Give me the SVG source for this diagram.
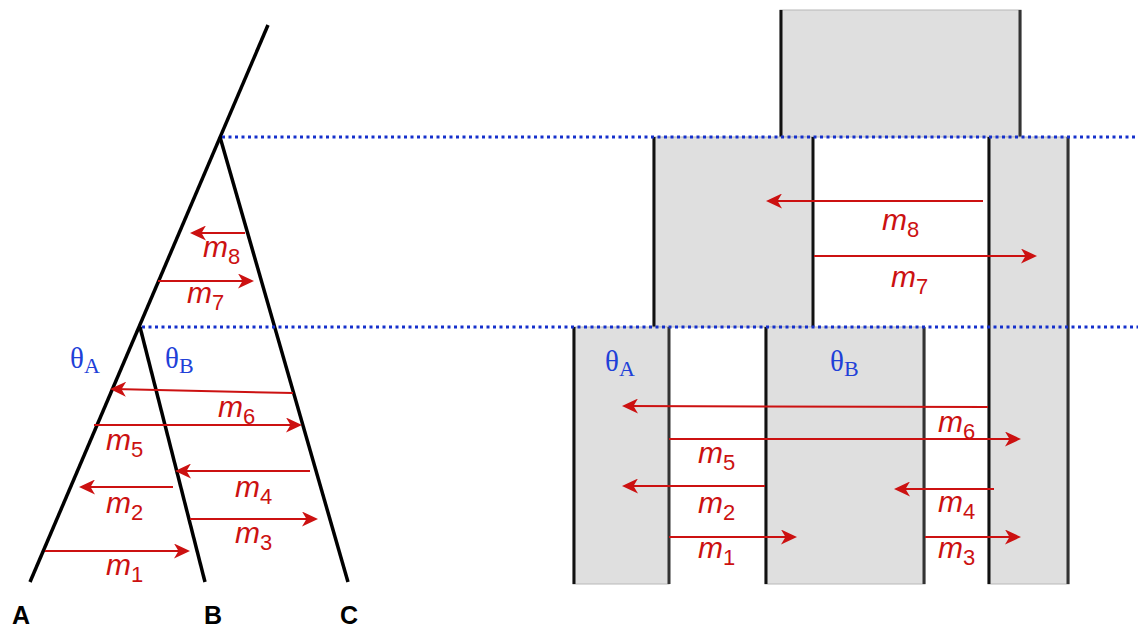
<svg xmlns="http://www.w3.org/2000/svg" width="1138" height="628" viewBox="0 0 1138 628">
<style>
.tree{stroke:#000;stroke-width:3.5;fill:none;stroke-linecap:butt}
.dot{stroke:#1530cc;stroke-width:3;stroke-dasharray:3 3.5;fill:none}
.arr{stroke:#cc1111;stroke-width:2;fill:none;marker-end:url(#ah)}
.box{fill:#dfdfdf;stroke:#b8b8b8;stroke-width:1}
.le{stroke:#111;stroke-width:3}
.re{stroke:#333;stroke-width:3}
.m{font-family:"Liberation Sans",Arial,sans-serif;font-style:italic;font-size:30px;fill:#cc1111}
.sub{font-size:22px;font-style:normal}
.th{font-family:"Liberation Serif","Times New Roman",serif;font-size:29px;fill:#2040d8}
.ths{font-size:22px}
.lbl{font-family:"Liberation Sans",Arial,sans-serif;font-weight:bold;font-size:25px;fill:#000;text-anchor:middle}
</style>
<defs>
<marker id="ah" markerUnits="userSpaceOnUse" markerWidth="17" markerHeight="15" viewBox="0 0 17 15" refX="12" refY="7.5" orient="auto">
<path d="M0,0 L16,7.5 L0,15 L4.5,7.5 Z" fill="#cc1111"/>
</marker>
</defs>

<g id="tree">
<line class="tree" x1="268" y1="25" x2="30" y2="582"/>
<line class="tree" x1="220" y1="137" x2="348" y2="582"/>
<line class="tree" x1="140" y1="327" x2="205" y2="582"/>
</g>

<g id="leaf-A"><text class="lbl" x="21" y="624">A</text></g>
<g id="leaf-B"><text class="lbl" x="213" y="624">B</text></g>
<g id="leaf-C"><text class="lbl" x="349" y="624">C</text></g>

<g id="tree-theta">
<text class="th" x="70" y="368">θ<tspan class="ths" dy="5">A</tspan></text>
<text class="th" x="165" y="368">θ<tspan class="ths" dy="5">B</tspan></text>
</g>

<g id="box-root">
<rect class="box" x="780" y="10" width="241" height="127"/>
<line class="le" x1="781" y1="10" x2="781" y2="137"/>
<line class="re" x1="1020" y1="10" x2="1020" y2="137"/>
</g>
<g id="box-AB">
<rect class="box" x="653" y="137" width="160" height="190"/>
<line class="le" x1="654" y1="137" x2="654" y2="327"/>
<line class="le" x1="813" y1="137" x2="813" y2="327"/>
</g>
<g id="box-C">
<rect class="box" x="988" y="137" width="81" height="447"/>
<line class="le" x1="989" y1="137" x2="989" y2="584"/>
<line class="re" x1="1068" y1="137" x2="1068" y2="584"/>
</g>
<g id="box-A">
<rect class="box" x="573" y="327" width="96" height="257"/>
<line class="le" x1="574" y1="327" x2="574" y2="584"/>
<line class="re" x1="669" y1="327" x2="669" y2="584"/>
<text class="th" x="605" y="371">θ<tspan class="ths" dy="5">A</tspan></text>
</g>
<g id="box-B">
<rect class="box" x="765" y="327" width="160" height="257"/>
<line class="le" x1="766" y1="327" x2="766" y2="584"/>
<line class="re" x1="924" y1="327" x2="924" y2="584"/>
<text class="th" x="830" y="371">θ<tspan class="ths" dy="5">B</tspan></text>
</g>

<g id="time-lines">
<line class="dot" x1="222" y1="137" x2="1138" y2="137"/>
<line class="dot" x1="142" y1="327" x2="1138" y2="327"/>
</g>

<g id="connectors">
<line class="arr" x1="245" y1="233" x2="194" y2="233"/>
<line class="arr" x1="158" y1="281" x2="250" y2="281"/>
<line class="arr" x1="293" y1="393" x2="114" y2="389"/>
<line class="arr" x1="94" y1="425" x2="298" y2="425"/>
<line class="arr" x1="310" y1="471" x2="179" y2="471"/>
<line class="arr" x1="173" y1="487" x2="83" y2="487"/>
<line class="arr" x1="190" y1="519" x2="314" y2="519"/>
<line class="arr" x1="45" y1="551" x2="186" y2="551"/>

<line class="arr" x1="983" y1="201" x2="770" y2="201"/>
<line class="arr" x1="814" y1="256" x2="1033" y2="256"/>
<line class="arr" x1="988" y1="407" x2="626" y2="406"/>
<line class="arr" x1="669" y1="439" x2="1017" y2="439"/>
<line class="arr" x1="765" y1="486" x2="626" y2="486"/>
<line class="arr" x1="994" y1="489" x2="898" y2="489"/>
<line class="arr" x1="669" y1="537" x2="793" y2="537"/>
<line class="arr" x1="925" y1="537" x2="1017" y2="537"/>
</g>

<g id="labels">
<text class="m" x="203" y="257">m<tspan class="sub" dy="7">8</tspan></text>
<text class="m" x="187" y="303">m<tspan class="sub" dy="7">7</tspan></text>
<text class="m" x="218" y="417">m<tspan class="sub" dy="7">6</tspan></text>
<text class="m" x="106" y="450">m<tspan class="sub" dy="7">5</tspan></text>
<text class="m" x="235" y="497">m<tspan class="sub" dy="7">4</tspan></text>
<text class="m" x="106" y="513">m<tspan class="sub" dy="7">2</tspan></text>
<text class="m" x="235" y="543">m<tspan class="sub" dy="7">3</tspan></text>
<text class="m" x="106" y="575">m<tspan class="sub" dy="7">1</tspan></text>

<text class="m" x="882" y="230">m<tspan class="sub" dy="7">8</tspan></text>
<text class="m" x="891" y="287">m<tspan class="sub" dy="7">7</tspan></text>
<text class="m" x="938" y="432">m<tspan class="sub" dy="7">6</tspan></text>
<text class="m" x="698" y="463">m<tspan class="sub" dy="7">5</tspan></text>
<text class="m" x="698" y="513">m<tspan class="sub" dy="7">2</tspan></text>
<text class="m" x="938" y="512">m<tspan class="sub" dy="7">4</tspan></text>
<text class="m" x="698" y="558">m<tspan class="sub" dy="7">1</tspan></text>
<text class="m" x="938" y="558">m<tspan class="sub" dy="7">3</tspan></text>
</g>
</svg>
